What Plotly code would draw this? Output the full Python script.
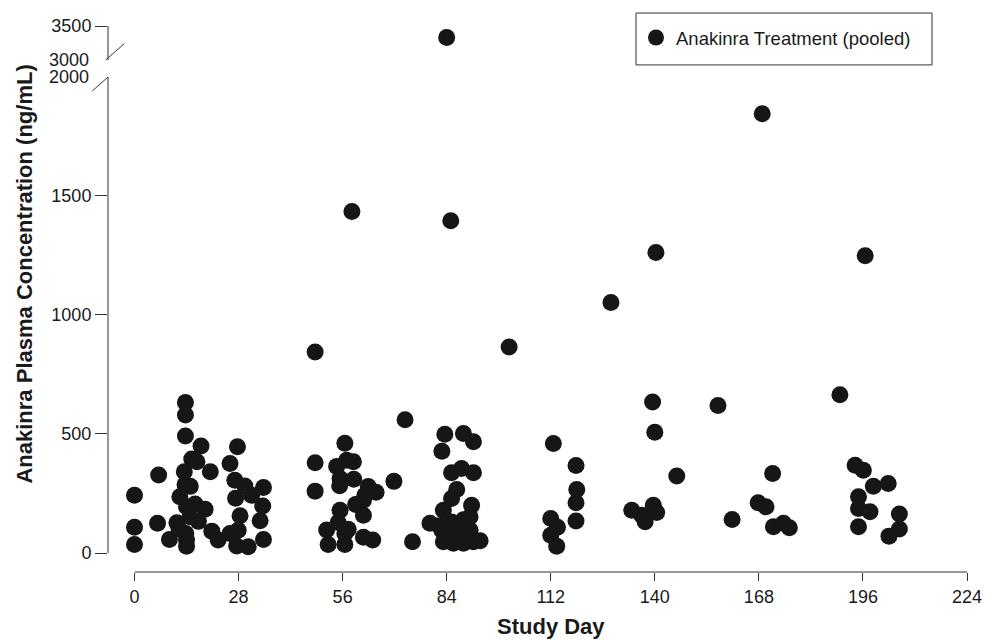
import plotly.graph_objects as go

# Study day and plasma concentration (ng/mL)
study_day = [
    0, 0, 0, 6.5, 6.2, 9.4,
    13.7, 13.7, 13.7, 17.9, 15.4, 16.8, 13.4, 20.4, 13.6, 15.0, 12.2, 14.0, 16.3, 19.0,
    14.9, 11.4, 17.2, 13.8, 14.0, 14.0, 20.8, 22.5, 12.0,
    27.7, 25.7, 27.0, 29.7, 34.7, 27.2, 31.5, 34.5, 28.4, 33.8, 25.7, 27.9, 27.5, 30.6, 34.7,
    48.6, 48.6, 48.6, 56.6, 54.4, 57.1, 58.9, 55.3, 59.0, 55.2, 62.9, 65.0, 69.8, 62.0,
    59.5, 61.6, 55.3, 61.6, 54.8, 51.7, 57.5, 56.6, 52.1, 56.6, 61.6, 64.1, 74.8, 72.8, 58.5,
    84.0, 85.1, 100.8,
    83.5, 82.7, 88.5, 91.2, 85.3, 88.0, 91.2, 86.7, 85.3, 90.7, 90.3, 83.1, 79.5,
    82.7, 84.9, 87.6, 90.3, 83.1, 85.8, 88.5, 91.2, 93.0, 85.3, 88.5, 82.0,
    112.7, 118.8, 119.0, 118.8, 118.8, 112.0, 113.8, 112.0, 113.6,
    128.2, 140.3, 139.4, 140.0, 145.9, 133.8, 139.6, 140.5, 137.4, 136.5,
    157.0, 160.8, 168.9, 171.7, 167.8, 169.9, 171.9, 174.6, 176.2,
    189.8, 196.6, 193.9, 196.1, 198.8, 202.8, 194.8, 194.8, 197.9, 194.8, 205.8, 205.8, 203.0,
]
concentration = [
    243, 108, 36, 328, 125, 57,
    632, 580, 492, 450, 395, 383, 341, 341, 288, 280, 236, 194, 206, 184,
    152, 127, 133, 82, 55, 28, 92, 55, 100,
    446, 376, 306, 282, 275, 230, 243, 198, 157, 136, 82, 96, 30, 26, 57,
    844, 379, 260, 461, 364, 390, 383, 313, 310, 283, 279, 255, 301, 243,
    204, 222, 180, 159, 128, 97, 100, 82, 36, 36, 66, 55, 47, 560, 1435,
    3330, 1396, 865,
    499, 428, 502, 467, 337, 355, 337, 267, 229, 201, 152, 180, 125,
    96, 82, 96, 96, 47, 41, 41, 47, 52, 130, 140, 115,
    460, 368, 267, 211, 135, 145, 108, 75, 29,
    1052, 1262, 634, 507, 324, 180, 201, 170, 131, 159,
    620, 141, 1845, 334, 211, 194, 110, 125, 106,
    665, 1249, 369, 348, 281, 292, 236, 187, 173, 110, 164, 101, 71,
]

x_ticks = [0, 28, 56, 84, 112, 140, 168, 196, 224]
y_ticks_low = [0, 500, 1000, 1500]
y_ticks_high = [3500]
break_low, break_high = 2000, 3000
series_name = "Anakinra Treatment (pooled)"

FONT = "Liberation Sans, Arial, Helvetica, sans-serif"
DOT = "#161616"
AX = "#333333"

low_x = [d for d, c in zip(study_day, concentration) if c <= break_low]
low_y = [c for c in concentration if c <= break_low]
high_x = [d for d, c in zip(study_day, concentration) if c > break_low]
high_y = [c for c in concentration if c > break_low]

fig = go.Figure()
fig.add_trace(go.Scatter(
    x=low_x, y=low_y, mode="markers", name=series_name,
    marker=dict(size=17, color=DOT, line=dict(width=0)),
    xaxis="x", yaxis="y", cliponaxis=False,
))
fig.add_trace(go.Scatter(
    x=high_x, y=high_y, mode="markers", name=series_name, showlegend=False,
    marker=dict(size=17, color=DOT, line=dict(width=0)),
    xaxis="x", yaxis="y2", cliponaxis=False,
))

# page body adds an 8px offset; positions below are given in reference pixels
OFF = 8
W, H = 997 - OFF, 640 - OFF
LEFT_PX, RIGHT_PX, TOP_PX, BOTTOM_PX = 108, 975, 25, 572   # plot edges (reference px)
L = LEFT_PX - OFF
R = W - (RIGHT_PX - OFF)
T = TOP_PX - OFF
B = H - (BOTTOM_PX - OFF)
ph = H - T - B
pw = W - L - R

def py(pix):
    return (BOTTOM_PX - pix) / ph

def px(pix):
    return (pix - LEFT_PX) / pw

tickfont = dict(family=FONT, size=18, color="#1a1a1a")
titlefont = dict(family=FONT, size=22, color="#1a1a1a")

fig.update_layout(
    width=W, height=H,
    margin=dict(l=L, r=R, t=T, b=B),
    paper_bgcolor="white", plot_bgcolor="white",
    font=dict(family=FONT),
    xaxis=dict(
        range=[-7.13, 226.15], tickvals=x_ticks, ticks="outside", ticklen=8,
        tickcolor=AX, tickwidth=1, showline=False, showgrid=False, zeroline=False,
        tickfont=tickfont, anchor="y", automargin=False,
    ),
    yaxis=dict(
        domain=[0, py(76)], range=[-79.7, 2000], tickvals=y_ticks_low, ticks="outside",
        ticklen=12, tickcolor=AX, tickwidth=1, showline=False, showgrid=False,
        zeroline=False, tickfont=tickfont, anchor="x", automargin=False,
    ),
    yaxis2=dict(
        domain=[py(59), 1], range=[3000, 3500], tickvals=y_ticks_high, ticks="outside",
        ticklen=12, tickcolor=AX, tickwidth=1, showline=False, showgrid=False,
        zeroline=False, tickfont=tickfont, anchor="x", automargin=False,
    ),
    showlegend=True,
    legend=dict(
        x=px(636), y=py(19), xanchor="left", yanchor="top",
        bgcolor="rgba(0,0,0,0)", borderwidth=0,
        font=dict(family=FONT, size=18.5, color="#1a1a1a"),
    ),
)

shapes = [
    dict(type="line", xref="x", yref="paper", x0=x_ticks[0], x1=x_ticks[-1], y0=0, y1=0,
         line=dict(color=AX, width=1)),
    dict(type="line", xref="paper", yref="y", x0=0, x1=0, y0=0, y1=break_low,
         line=dict(color=AX, width=1)),
    dict(type="line", xref="paper", yref="y2", x0=0, x1=0, y0=break_high, y1=y_ticks_high[-1],
         line=dict(color=AX, width=1)),
    dict(type="line", xref="paper", yref="y2", xsizemode="pixel", ysizemode="pixel",
         xanchor=0, yanchor=break_high, x0=-17.3, y0=-13.3, x1=16.3, y1=16.3,
         line=dict(color=AX, width=1)),
    dict(type="line", xref="paper", yref="y", xsizemode="pixel", ysizemode="pixel",
         xanchor=0, yanchor=break_low, x0=-15.7, y0=-14, x1=18, y1=15.7,
         line=dict(color=AX, width=1)),
    dict(type="rect", xref="paper", yref="paper", x0=px(636), x1=px(932), y0=py(64), y1=py(12),
         line=dict(color=AX, width=1), fillcolor="rgba(0,0,0,0)"),
]
fig.update_layout(shapes=shapes)

annotations = [
    dict(text=str(break_low), xref="paper", yref="y", x=0, y=break_low, xanchor="right",
         yanchor="middle", xshift=-17, showarrow=False, font=tickfont),
    dict(text=str(break_high), xref="paper", yref="y2", x=0, y=break_high, xanchor="right",
         yanchor="middle", xshift=-17, showarrow=False, font=tickfont),
    dict(text="<b>Study Day</b>", xref="x", yref="paper", x=112, y=py(627),
         xanchor="center", yanchor="middle", showarrow=False, font=titlefont),
    dict(text="<b>Anakinra Plasma Concentration (ng/mL)</b>", xref="paper", yref="paper",
         x=px(25), y=py(274), xanchor="center", yanchor="middle", textangle=-90,
         showarrow=False, font=titlefont),
]
fig.update_layout(annotations=annotations)

fig.write_html("out.html")
